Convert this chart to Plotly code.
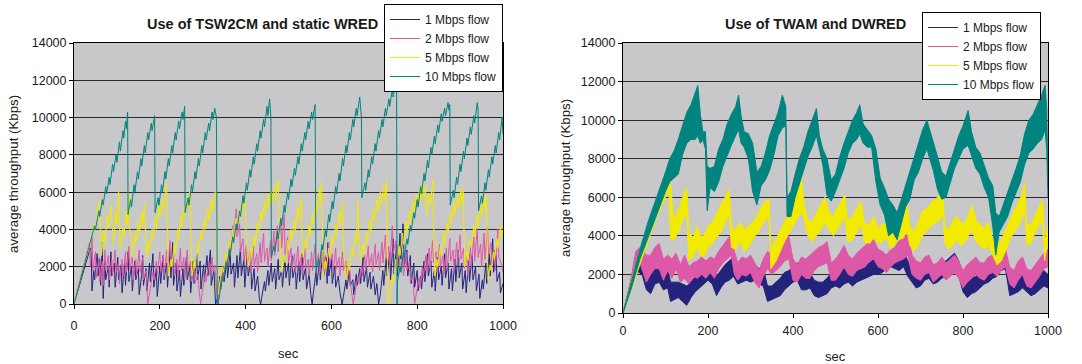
import plotly.graph_objects as go

FONT = "Liberation Sans, Arial, sans-serif"
SERIES = ["1 Mbps flow", "2 Mbps flow", "5 Mbps flow", "10 Mbps flow"]
COLORS = ["#23237d", "#de58a8", "#f2ea00", "#00847f"]
TITLES = ["Use of TSW2CM and static WRED", "Use of TWAM and DWRED"]
X_TICKS = [0, 200, 400, 600, 800, 1000]
Y_TICKS = [0, 2000, 4000, 6000, 8000, 10000, 12000, 14000]

# ---- Left chart (TSW2CM / static WRED): [sec, Kbps] vertices ----
L_1M = [[0,0],[10,800],[20,1600],[30,2400],[38,3000],[40,2800],[42,700],[46,1800],[48,1300],[54,2700],[56,1500],[60,2400],[62,1000],[66,3300],[68,300],[72,2300],[74,1300],[80,2000],[82,900],[86,2800],[88,1500],[94,2200],[96,900],[102,2500],[104,1300],[110,2100],[112,600],[118,2200],[120,1000],[126,2800],[128,1200],[134,2000],[136,700],[142,2300],[144,1300],[150,1900],[152,500],[158,1600],[160,2600],[162,1000],[168,1900],[170,700],[176,2200],[178,1200],[184,2700],[186,900],[192,1900],[194,400],[200,2000],[202,1100],[208,2600],[210,1300],[216,2200],[218,900],[224,2900],[226,1400],[230,3300],[232,1000],[238,2200],[240,700],[246,1800],[248,400],[254,1900],[256,1000],[262,2500],[264,1300],[270,2000],[272,600],[278,2300],[280,1100],[286,2700],[288,1300],[294,2300],[296,800],[302,2100],[304,1200],[310,2600],[312,1500],[318,2900],[320,1000],[326,1800],[330,0],[334,300],[340,1500],[342,800],[348,2000],[350,1200],[356,2300],[358,1400],[364,2800],[366,1600],[372,2200],[374,900],[380,2600],[382,1400],[388,3000],[390,1500],[396,2400],[398,900],[404,2800],[406,1500],[412,2200],[414,800],[420,1900],[422,700],[428,1500],[432,300],[435,0],[438,400],[444,1200],[446,700],[452,1800],[454,1000],[460,2200],[462,1200],[468,1900],[470,800],[476,2400],[478,1300],[484,1800],[486,900],[492,2500],[494,1400],[500,2200],[502,1000],[508,2600],[510,1400],[516,2000],[518,800],[524,2300],[526,1200],[532,2700],[534,1300],[540,2000],[542,800],[548,1600],[552,500],[555,0],[558,600],[564,1700],[566,1000],[572,2300],[574,1300],[580,2800],[582,1500],[588,2500],[590,1100],[592,3300],[594,1500],[600,2400],[602,1100],[608,2000],[610,900],[616,1500],[620,600],[625,0],[628,400],[634,1300],[636,800],[642,1800],[644,1000],[650,1300],[652,500],[658,1600],[660,1000],[666,1900],[668,1100],[674,2500],[676,1200],[682,2000],[684,900],[690,1700],[692,800],[698,1500],[702,500],[706,1100],[710,0],[714,500],[720,1800],[722,1000],[728,2500],[730,1500],[736,2800],[738,1300],[744,3500],[746,1600],[752,3200],[754,1500],[760,3800],[762,2400],[767,4300],[770,2000],[776,2900],[778,1500],[784,2600],[786,1100],[792,2200],[794,900],[800,1800],[802,700],[808,1500],[810,800],[816,2300],[818,1200],[824,2700],[826,1500],[832,2300],[834,900],[840,1800],[842,700],[848,2500],[850,1300],[856,2000],[858,1000],[864,2700],[866,1400],[872,2200],[874,800],[880,1900],[882,700],[888,2400],[890,1200],[896,2900],[898,1400],[904,2200],[906,800],[912,1800],[914,600],[920,2300],[922,1200],[928,2600],[930,1300],[936,2000],[938,700],[944,1600],[946,300],[952,1300],[954,800],[960,2200],[962,1100],[968,2700],[970,1500],[976,3500],[978,1700],[984,2600],[986,1200],[992,1700],[994,600],[1000,1100]]

L_2M = [[0,0],[10,900],[20,1700],[30,2600],[36,3300],[38,2000],[42,3600],[44,1800],[50,2800],[52,1400],[58,2500],[60,1200],[66,2300],[68,1000],[72,2900],[74,1800],[80,2600],[82,1300],[88,2400],[90,1600],[96,2900],[98,1700],[104,2200],[106,1100],[112,2400],[114,1500],[120,2800],[122,1700],[128,3100],[130,1800],[136,2600],[138,1300],[144,2400],[146,1500],[152,2900],[154,1700],[160,2500],[162,1300],[168,1800],[172,0],[178,900],[184,1700],[186,1300],[192,2300],[194,1600],[200,2800],[202,1800],[208,2600],[210,1500],[216,2900],[218,1800],[224,3400],[226,2000],[232,2700],[234,1500],[240,2400],[242,1400],[248,3000],[250,1800],[256,2500],[258,1300],[264,2900],[266,1800],[272,2300],[274,1200],[280,2000],[282,1100],[288,1600],[292,700],[295,0],[300,800],[306,1600],[308,1200],[314,2200],[316,1600],[322,2500],[324,1700],[328,2100],[332,900],[335,0],[340,900],[346,1800],[348,1400],[354,2500],[356,2000],[362,3200],[364,2600],[370,4200],[372,3300],[378,5100],[380,3600],[386,4300],[388,2800],[394,3500],[396,2300],[402,3200],[404,2000],[410,2800],[412,1700],[418,3100],[420,2000],[426,2700],[428,1700],[434,3300],[436,2200],[442,3800],[444,2300],[450,3000],[452,2000],[458,3400],[460,2300],[466,3900],[468,2600],[474,4200],[476,2800],[482,4500],[484,3000],[490,4800],[492,2600],[498,3600],[500,2200],[506,3000],[508,1900],[514,2700],[516,1700],[522,3100],[524,2000],[530,2600],[532,1600],[538,3000],[540,1900],[546,2400],[548,1500],[554,2800],[556,1800],[562,3200],[564,2100],[570,2700],[572,1600],[578,3000],[580,1900],[586,2600],[588,1700],[594,3300],[596,2100],[602,2700],[604,1700],[610,3000],[612,1900],[618,2500],[620,1500],[626,2800],[628,1800],[634,2300],[636,1300],[642,2000],[646,800],[651,0],[656,700],[662,1500],[664,1100],[670,2000],[672,1500],[678,2600],[680,1800],[686,3100],[688,2000],[694,2700],[696,1700],[702,3200],[704,2100],[710,2800],[712,1800],[718,3300],[720,2200],[726,3700],[728,2400],[734,3100],[736,2000],[742,4200],[744,2700],[750,3400],[752,2200],[758,2900],[760,1800],[766,2500],[768,1500],[774,2800],[776,1800],[782,2300],[784,1200],[790,1500],[794,0],[798,500],[804,1400],[806,900],[812,2000],[814,1400],[820,2600],[822,1700],[828,3000],[830,1900],[836,3400],[838,2200],[844,2800],[846,1700],[852,3200],[854,2000],[860,2600],[862,1600],[868,3000],[870,1900],[876,3500],[878,2300],[884,2900],[886,1800],[892,3300],[894,2100],[900,3700],[902,2400],[908,3000],[910,1900],[916,2600],[918,1500],[924,3100],[926,2000],[932,3600],[934,2300],[940,4000],[942,2500],[948,3200],[950,2000],[956,3800],[958,2400],[964,4100],[966,2600],[972,3300],[974,2100],[980,2900],[982,1800],[988,4000],[990,2500],[996,2200],[1000,1700]]

L_5M = [[0,0],[10,900],[20,1800],[30,2700],[40,3600],[48,4300],[50,4000],[56,5200],[60,5600],[62,3800],[64,2600],[70,3900],[72,3300],[78,4800],[80,4100],[86,5300],[88,4400],[92,3200],[98,5000],[100,4300],[104,6100],[106,4000],[108,2900],[114,4100],[116,3600],[122,5000],[124,4300],[128,5900],[130,4000],[134,3600],[136,2500],[142,3800],[144,3200],[150,4500],[152,3700],[158,4900],[160,4100],[164,5400],[166,3700],[169,2500],[174,3400],[176,2800],[182,4000],[184,3500],[190,4700],[192,4000],[198,5300],[200,4600],[206,5700],[208,5000],[214,6200],[216,6500],[218,3500],[220,1500],[226,2400],[228,2000],[234,3300],[236,2700],[242,4000],[244,3500],[250,4800],[252,4100],[258,5400],[260,4700],[266,5800],[268,5200],[270,6100],[272,3500],[275,1500],[280,2300],[282,1900],[288,3200],[290,2700],[296,3900],[298,3400],[304,4600],[306,4000],[312,5200],[314,4500],[320,5600],[322,4900],[328,6000],[331,6100],[333,3000],[336,500],[340,1200],[346,2000],[348,1700],[354,2700],[356,2300],[362,3400],[364,3000],[370,4000],[372,3500],[378,4600],[380,4100],[386,5100],[388,4600],[394,5700],[396,5100],[398,5900],[402,3500],[406,2000],[412,3000],[414,2500],[420,3700],[422,3100],[428,4400],[430,3800],[436,5000],[438,4400],[444,5500],[446,4800],[452,5900],[454,5200],[460,6200],[462,5400],[468,6400],[470,5600],[476,6700],[478,4200],[484,1700],[490,2600],[492,2200],[498,3400],[500,2900],[506,4000],[508,3400],[514,4600],[516,3900],[522,5200],[524,4500],[530,5700],[532,3000],[534,2500],[540,3500],[542,3000],[548,4200],[550,3600],[556,4900],[558,4200],[564,5600],[566,4900],[572,6200],[574,5400],[577,6600],[579,3500],[581,1500],[586,2300],[588,1900],[594,3000],[596,2500],[602,3700],[604,3100],[610,4300],[612,3700],[618,4900],[620,4200],[626,5500],[628,3000],[635,1300],[640,2200],[642,1800],[648,3000],[650,2500],[656,3800],[658,3200],[662,5500],[664,3500],[668,2300],[674,3200],[676,2700],[682,3900],[684,3300],[690,4500],[692,3900],[698,5100],[700,4400],[706,5600],[708,4900],[714,6000],[716,5300],[722,6300],[724,5500],[728,6700],[730,3500],[732,0],[736,300],[742,1500],[744,1100],[750,2400],[752,1900],[758,3100],[760,2600],[766,3800],[768,3200],[774,4400],[776,3800],[782,5000],[784,4300],[790,5500],[792,4800],[798,5900],[800,5200],[806,6200],[808,5400],[814,6500],[816,5700],[820,6300],[822,4700],[826,5900],[830,5300],[837,6700],[839,3500],[841,1500],[846,2400],[848,2000],[854,3100],[856,2600],[862,3800],[864,3200],[870,4400],[872,3800],[878,5000],[880,4300],[886,5500],[888,4800],[894,5900],[896,5100],[902,6200],[904,5300],[907,6100],[909,3800],[911,2000],[916,2800],[918,2400],[924,3500],[926,3000],[932,4200],[934,3600],[940,4800],[942,4100],[948,5300],[950,4600],[956,5700],[958,5000],[961,5900],[963,3000],[965,1300],[970,2100],[972,1800],[978,2800],[980,2400],[986,3500],[988,3000],[994,4200],[996,3600],[1000,4000]]

L_10M = [[0,0],[10,900],[20,1800],[30,2700],[40,3500],[48,4200],[50,4000],[58,5000],[60,4700],[66,5600],[68,5300],[74,6300],[76,5900],[82,6800],[84,6400],[90,7500],[92,7100],[98,8000],[100,7600],[106,8700],[108,8200],[114,9300],[116,8900],[120,9800],[122,9400],[125,10300],[126,4800],[132,5600],[134,5200],[140,6400],[142,6000],[148,7100],[150,6700],[156,7800],[158,7400],[164,8500],[166,8100],[172,9200],[174,8800],[180,9700],[182,9300],[188,10100],[189,4900],[196,5700],[198,5300],[204,6400],[206,6000],[212,7100],[214,6700],[220,7800],[222,7400],[228,8500],[230,8100],[236,9200],[238,8800],[244,9800],[246,9400],[252,10300],[254,9900],[258,10600],[259,4900],[266,5700],[268,5300],[274,6400],[276,6000],[282,7100],[284,6700],[290,7800],[292,7400],[298,8500],[300,8100],[306,9200],[308,8800],[314,9700],[316,9300],[322,10300],[324,9900],[328,10500],[332,10000],[334,0],[336,0],[340,600],[346,1500],[348,1200],[354,2200],[356,1900],[362,2900],[364,2600],[370,3600],[372,3300],[378,4300],[380,4000],[386,5000],[388,4700],[394,5800],[396,5400],[402,6500],[404,6100],[410,7200],[412,6800],[418,7900],[420,7500],[426,8600],[428,8200],[434,9300],[436,8900],[442,9900],[444,9500],[450,10600],[452,10100],[456,11000],[459,10000],[460,2500],[466,3100],[468,2800],[474,3900],[476,3500],[482,4600],[484,4200],[490,5300],[492,4900],[498,6000],[500,5600],[506,6700],[508,6300],[514,7300],[516,6900],[522,7900],[524,7500],[530,8600],[532,8200],[538,9200],[540,8800],[546,9800],[548,9400],[554,10300],[556,9900],[562,10700],[564,1700],[570,2400],[572,2100],[578,3200],[580,2900],[586,4000],[588,3600],[594,4800],[596,4400],[602,5500],[604,5100],[610,6300],[612,5900],[618,7000],[620,6600],[626,7800],[628,7400],[634,8500],[636,8100],[642,9200],[644,8800],[650,9900],[652,9500],[658,10500],[660,10100],[666,11100],[668,10600],[670,10000],[671,5700],[678,6500],[680,6100],[686,7200],[688,6800],[694,7900],[696,7500],[702,8600],[704,8200],[710,9300],[712,8900],[718,9900],[720,9500],[726,10500],[728,10100],[734,11000],[736,10600],[742,11500],[744,11100],[750,11900],[752,11600],[753,0],[754,1200],[760,2000],[762,1700],[768,2800],[770,2500],[776,3500],[778,3200],[784,4200],[786,3900],[792,4900],[794,4600],[800,5600],[802,5200],[808,6300],[810,5900],[816,7000],[818,6600],[824,7700],[826,7300],[832,8400],[834,8000],[840,9000],[842,8600],[848,9600],[850,9200],[856,10200],[858,9800],[864,10500],[866,10100],[872,10800],[874,10400],[876,10700],[877,5300],[884,6100],[886,5700],[892,6800],[894,6400],[900,7500],[902,7100],[908,8200],[910,7800],[916,8900],[918,8500],[924,9500],[926,9100],[932,10100],[934,9700],[940,10800],[942,10400],[943,5000],[950,5800],[952,5400],[958,6500],[960,6100],[966,7200],[968,6800],[974,7900],[976,7500],[982,8500],[984,8100],[990,9200],[992,8800],[998,10000],[1000,9100]]

# ---- Right chart (TWAM / DWRED): dense traces read as [sec, low, high] envelopes ----
R_1M = [[0,0,0],[15,1000,1300],[30,2200,2700],[45,2000,2500],[55,1200,2200],[65,1000,2200],[75,1500,2700],[85,1600,3000],[95,1200,2300],[105,1300,2300],[112,600,1600],[120,700,1600],[130,800,1600],[140,600,1500],[150,400,1400],[160,800,1600],[170,1100,1900],[180,1300,2000],[190,1500,2200],[200,1700,2300],[210,1500,2300],[220,900,1900],[230,1300,2200],[240,1600,2500],[250,1700,2700],[260,1900,2900],[270,1500,2600],[280,1600,2600],[290,1700,2500],[300,1600,2400],[310,1700,2500],[320,1500,2300],[330,1400,2300],[340,600,1400],[350,700,1400],[360,800,1600],[370,900,1800],[380,1200,2100],[390,1400,2200],[400,1600,2400],[410,1700,2600],[420,1200,2000],[430,1200,1900],[440,1300,2100],[450,900,1700],[460,800,1600],[470,900,1600],[480,1000,1800],[490,1300,2100],[500,1400,2200],[510,1300,2100],[520,1500,2300],[530,1600,2300],[540,1400,2200],[550,1600,2300],[560,1700,2500],[570,1800,2500],[580,1900,2600],[590,2000,2800],[600,2000,2700],[610,2100,2800],[620,2300,3000],[630,2400,3100],[640,2300,3100],[650,2200,3000],[660,2400,3200],[670,1900,2700],[680,1600,2400],[690,1300,2100],[700,1400,2200],[710,1700,2500],[720,1800,2600],[730,1500,2300],[740,1600,2400],[750,1800,2600],[760,1900,2700],[770,2100,2900],[780,2200,3100],[790,1900,2700],[800,1100,1900],[810,800,1600],[820,1000,1800],[830,1100,1900],[840,1300,2100],[850,1500,2200],[860,1600,2400],[870,1800,2600],[880,1900,2700],[890,2200,3000],[900,2300,3200],[910,900,1800],[920,1000,1800],[930,1100,1900],[940,1300,2100],[950,1100,1900],[960,900,1700],[970,1000,1900],[980,1200,2000],[990,1400,2200],[1000,1300,2000]]

R_2M = [[0,0,0],[15,1000,1300],[30,2400,3200],[40,2600,3400],[55,1600,3000],[65,2000,3000],[75,2300,3400],[85,2300,3600],[95,1700,2800],[105,2200,3000],[115,1800,2800],[125,2300,3100],[135,1600,2500],[145,1800,3000],[155,1500,2400],[165,1900,2600],[175,1800,2700],[185,2000,2900],[195,1800,2700],[205,2100,2900],[215,1800,2800],[225,2300,3200],[235,2600,3500],[245,2800,3800],[255,3000,4100],[262,2000,3200],[270,1700,2600],[280,2000,2900],[290,1900,2800],[300,2100,3000],[310,1600,2600],[320,1300,2200],[330,1900,2800],[340,2300,3200],[350,2000,3000],[360,2200,3300],[370,2400,3500],[380,2700,3800],[390,2800,4000],[400,1700,2800],[410,1600,2500],[420,2000,2900],[430,1800,2800],[440,1800,3000],[450,2200,3200],[460,2400,3400],[470,2500,3500],[480,2600,3700],[490,1700,2600],[500,1700,2800],[510,2000,3100],[520,2400,3500],[530,2000,3000],[540,1900,2800],[550,2200,3100],[560,2300,3300],[570,2400,3500],[580,2700,3700],[590,2800,3800],[600,2400,3300],[610,2300,3200],[620,2100,3000],[630,2400,3300],[640,2600,3400],[650,2700,3800],[660,2800,3900],[670,3000,4100],[680,2000,3000],[690,1800,2700],[700,1700,2600],[710,2000,2900],[720,2100,3000],[730,1600,2500],[740,1800,2600],[750,2000,2900],[760,1700,2600],[770,1900,2800],[780,2100,3000],[790,1800,2700],[800,1300,2200],[810,1600,2500],[820,1800,2700],[830,2000,2900],[840,1800,2600],[850,1700,2600],[860,2000,2900],[870,2100,3000],[880,1900,2900],[890,2200,3100],[900,2400,3300],[910,1500,2400],[920,1300,2200],[930,1700,2700],[940,2000,2900],[950,1400,2300],[960,1300,2200],[970,1600,2500],[980,1900,2800],[990,2300,3100],[1000,2400,3300]]

R_5M = [[0,0,0],[20,1300,1700],[40,2600,3200],[60,3800,4600],[80,5000,5800],[100,6000,6900],[108,6500,7500],[112,3800,6500],[120,3800,4800],[130,4200,5300],[140,4800,6000],[150,5200,6500],[155,2700,4200],[165,2900,3900],[175,3400,4500],[182,3000,4000],[190,2900,4000],[200,3400,4500],[210,3600,4700],[220,3900,5100],[230,4200,5600],[240,4700,6000],[250,5100,6400],[255,3400,4500],[265,3300,4300],[275,3700,4700],[285,3200,4300],[295,3400,4500],[305,3800,4700],[315,4100,5000],[325,4500,5500],[335,4800,5800],[344,5000,5900],[348,2300,3300],[360,2700,3800],[370,3200,4300],[380,3700,4700],[390,4100,5300],[400,4500,5700],[410,4900,6300],[420,5200,7000],[425,5000,5800],[435,4000,4800],[445,3700,4700],[455,4000,5200],[465,4300,5600],[475,4700,6000],[485,4300,5200],[495,4000,5000],[505,4400,5500],[515,4800,5900],[522,5000,6100],[528,3700,4800],[540,3800,5000],[550,4200,5400],[560,4600,5800],[568,3700,4600],[580,3600,4600],[590,3900,5000],[600,3600,4400],[610,3700,4600],[620,3900,4700],[630,3300,4300],[640,3600,4500],[650,3800,4800],[660,3900,5200],[668,4300,5800],[675,3500,4500],[685,3200,4200],[695,3500,4800],[705,4000,5300],[715,4300,5400],[725,4500,5700],[735,4700,5900],[745,4800,6100],[752,5200,6500],[757,3700,4500],[765,3300,4300],[775,3500,4700],[785,3800,5000],[795,3500,4700],[805,3700,4700],[815,4100,5200],[822,4300,5600],[830,3700,4800],[840,3500,4600],[850,3300,4400],[860,3500,4700],[870,3000,3800],[880,2500,3500],[890,2700,3800],[900,3200,4300],[910,3800,4800],[920,4200,5300],[930,4500,5700],[940,5000,6200],[945,5500,6800],[950,3500,4600],[960,3600,4600],[970,4200,5100],[980,4600,5600],[987,4800,5900],[992,2700,3700],[997,3300,4200],[1000,3800,4500]]

R_10M = [[0,0,0],[20,1300,1700],[40,2800,3300],[60,4000,4800],[80,5200,6000],[100,6300,7300],[110,6800,8000],[120,7000,8400],[130,7200,9000],[140,8200,9700],[150,8800,10400],[160,9000,10800],[170,9000,11400],[176,9200,11800],[182,8800,10300],[188,9000,9400],[194,8500,9400],[198,5300,7600],[205,6500,7500],[215,6300,7600],[225,6800,8500],[235,7600,9000],[245,8200,9800],[255,8700,10300],[265,9200,10700],[272,9500,11300],[278,8800,10200],[285,8600,9400],[295,8000,9300],[305,6300,8800],[315,5600,7300],[325,6600,7600],[335,6900,8300],[345,7400,9200],[355,8200,9800],[365,9200,10400],[375,9600,11300],[383,9700,10700],[386,5000,6000],[395,5000,6300],[405,6000,7200],[415,6700,8000],[425,7300,8600],[435,8100,9400],[445,8600,10000],[455,9200,10600],[462,8500,9200],[470,7700,8500],[480,6100,8000],[490,5800,6900],[500,6300,7200],[510,6900,8100],[520,7500,8800],[530,8300,9400],[540,8800,10000],[550,9000,10400],[557,9300,10800],[565,8800,9800],[575,8600,9500],[585,8600,9200],[595,6800,8500],[605,5600,7000],[615,5100,6500],[625,4000,5900],[635,4200,5600],[645,3800,5200],[655,4700,5900],[665,5500,6600],[675,5900,7300],[685,6900,8000],[695,7300,8800],[705,8000,9500],[715,8500,10000],[722,8000,9500],[730,7400,8800],[740,6400,8100],[750,5900,7300],[760,6000,7100],[770,6800,7800],[780,7500,8500],[790,8000,9200],[800,8500,9700],[812,8700,10500],[820,8200,9400],[830,7500,8600],[840,7200,8300],[850,6500,7600],[860,6000,7000],[870,4500,6600],[877,3000,5200],[885,4200,5000],[895,4600,5600],[905,5000,6200],[915,5700,6800],[925,6300,7500],[935,6800,8200],[945,7700,9300],[955,8300,10000],[965,8500,10300],[975,8800,10800],[985,9000,11300],[993,9500,11800],[997,8500,10600],[1000,6000,6500]]

LEFT = [L_1M, L_2M, L_5M, L_10M]
RIGHT = [R_1M, R_2M, R_5M, R_10M]

fig = go.Figure()

for i, data in enumerate(LEFT):
    fig.add_trace(go.Scatter(
        x=[p[0] for p in data], y=[p[1] for p in data], mode="lines",
        name=SERIES[i], line=dict(color=COLORS[i], width=1),
        xaxis="x", yaxis="y", legend="legend", legendgroup="L%d" % i))

for i, data in enumerate(RIGHT):
    xs = [p[0] for p in data]
    fig.add_trace(go.Scatter(
        x=xs, y=[p[1] for p in data], mode="lines", name=SERIES[i],
        line=dict(color=COLORS[i], width=1), xaxis="x2", yaxis="y2",
        legend="legend2", legendgroup="R%d" % i))
    fig.add_trace(go.Scatter(
        x=xs, y=[p[2] for p in data], mode="lines", name=SERIES[i],
        line=dict(color=COLORS[i], width=1), fill="tonexty",
        fillcolor=COLORS[i], xaxis="x2", yaxis="y2", showlegend=False,
        legendgroup="R%d" % i))

W, H = 1082, 364
def px(x): return x / W
def py(y): return 1 - y / H

axis_common = dict(showline=True, linecolor="black", linewidth=1, mirror=True,
                   ticks="outside", tickcolor="black", ticklen=4,
                   tickformat="d", automargin=False,
                   tickfont=dict(family=FONT, size=12.5, color="#1a1a1a"),
                   zeroline=False, fixedrange=True)

legend_common = dict(xanchor="left", yanchor="top", bgcolor="white",
                     bordercolor="black", borderwidth=1,
                     font=dict(family=FONT, size=12, color="#1a1a1a"),
                     tracegroupgap=0, itemwidth=30)

fig.update_layout(
    width=W, height=H,
    margin=dict(l=0, r=0, t=0, b=0, pad=0, autoexpand=False),
    paper_bgcolor="white", plot_bgcolor="#c8c8ca", showlegend=True,
    hovermode=False,
    font=dict(family=FONT, color="#1a1a1a"),
    xaxis=dict(domain=[px(74), px(503)], range=[0, 1000], tickvals=X_TICKS,
               showgrid=False, anchor="y", ticklabelstandoff=6, **axis_common),
    yaxis=dict(domain=[py(304), py(43)], range=[0, 14000], tickvals=Y_TICKS,
               showgrid=True, gridcolor="#2a2a2a", gridwidth=1, anchor="x",
               **axis_common),
    xaxis2=dict(domain=[px(623), px(1048)], range=[0, 1000], tickvals=X_TICKS,
                showgrid=False, anchor="y2", ticklabelstandoff=2, **axis_common),
    yaxis2=dict(domain=[py(313), py(43)], range=[0, 14000], tickvals=Y_TICKS,
                showgrid=True, gridcolor="#2a2a2a", gridwidth=1, anchor="x2",
                **axis_common),
    legend=dict(x=px(384), y=py(4), **legend_common),
    legend2=dict(x=px(922), y=py(12), **legend_common),
)

annos = [
    dict(text="<b>" + TITLES[0] + "</b>", x=px(262), y=py(24), size=14.5),
    dict(text="<b>" + TITLES[1] + "</b>", x=px(815), y=py(24), size=14.5),
    dict(text="sec", x=px(288), y=py(353), size=13),
    dict(text="sec", x=px(835), y=py(356), size=13),
    dict(text="average throughput (Kbps)", x=px(13), y=py(174), textangle=-90, size=13.3),
    dict(text="average throughput (Kbps)", x=px(565), y=py(178), textangle=-90, size=13.3),
]
for a in annos:
    size = a.pop("size")
    fig.add_annotation(xref="paper", yref="paper", showarrow=False,
                       xanchor="center", yanchor="middle",
                       font=dict(family=FONT, size=size, color="#1a1a1a"), **a)

fig.write_html("out.html", config={"displayModeBar": False},
               post_script="document.body.style.margin='0';")
